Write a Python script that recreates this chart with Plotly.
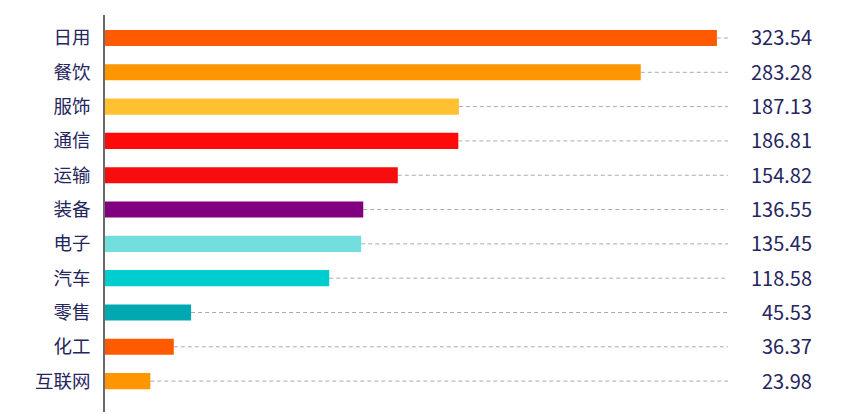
import plotly.graph_objects as go

# ======================
# DATA
# ======================
categories = ["日用", "餐饮", "服饰", "通信", "运输", "装备", "电子", "汽车", "零售", "化工", "互联网"]
values = [323.54, 283.28, 187.13, 186.81, 154.82, 136.55, 135.45, 118.58, 45.53, 36.37, 23.98]
bar_colors = ["#FF5A00", "#FF9500", "#FFC130", "#FF0A0A", "#F70D0D", "#800080",
              "#72DEDE", "#00CDCD", "#00A9B2", "#FF5A00", "#FF9500"]

X_MAX = 329.4
TEXT_COLOR = "#26265E"
FONT = "Noto Sans CJK SC"

# ======================
# PLOT
# ======================
fig = go.Figure()

fig.add_trace(go.Bar(
    x=values,
    y=categories,
    orientation="h",
    width=0.47,
    marker=dict(color=bar_colors, line=dict(width=0)),
    hoverinfo="x+y",
))

# dashed guide from bar end to the right edge, value at far right
for cat, v in zip(categories, values):
    fig.add_shape(
        type="line", xref="x", yref="y",
        x0=v, x1=X_MAX, y0=cat, y1=cat,
        line=dict(color="#ABABAB", width=1, dash="4px,3px"),
        layer="below",
    )
    fig.add_annotation(
        x=1, xref="paper", y=cat, yref="y",
        text=f"{v:.2f}", showarrow=False,
        xanchor="right", xshift=86, yshift=1,
        font=dict(family=FONT, size=20, color=TEXT_COLOR),
    )

fig.update_layout(
    width=856, height=414,
    paper_bgcolor="white", plot_bgcolor="white",
    margin=dict(l=97, r=136, t=7, b=10),
    showlegend=False,
    xaxis=dict(range=[0, X_MAX], visible=False, fixedrange=True),
    yaxis=dict(
        categoryorder="array", categoryarray=categories,
        range=[10.9, -0.67],
        showgrid=False, zeroline=False,
        showline=True, linecolor="#6A6A6A", linewidth=1.5,
        ticks="", ticklabelstandoff=9,
        tickfont=dict(family=FONT, size=18.5, color=TEXT_COLOR),
    ),
)

fig.write_html("out.html")
